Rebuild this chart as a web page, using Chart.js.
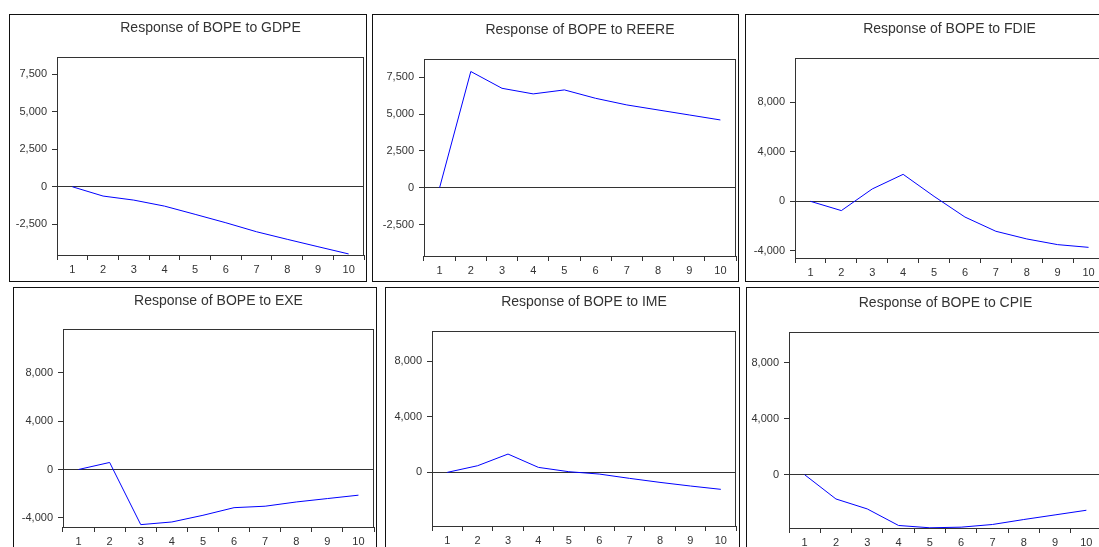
<!DOCTYPE html>
<html>
<head>
<meta charset="utf-8">
<script src="https://cdn.jsdelivr.net/npm/chart.js@4.4.1/dist/chart.umd.min.js"></script>
<style>
  html, body { margin: 0; padding: 0; background: #fff; }
  body { width: 1099px; height: 547px; overflow: hidden; position: relative; }
  .panel { position: absolute; box-sizing: border-box; border: 1px solid #111; background: #fff; }
  .panel canvas { display: block; }
</style>
</head>
<body>
<script>
// impulse responses of BOPE, periods 1..10
const periods = ['1', '2', '3', '4', '5', '6', '7', '8', '9', '10'];
const gdpe  = [0, -620, -890, -1290, -1840, -2400, -3000, -3505, -3995, -4480];
const reere = [0, 7890, 6750, 6370, 6640, 6070, 5620, 5280, 4940, 4600];
const fdie  = [0, -750, 1000, 2180, 400, -1270, -2420, -3040, -3500, -3720];
const exe   = [0, 580, -4550, -4330, -3780, -3150, -3030, -2680, -2400, -2120];
const ime   = [0, 480, 1320, 360, 50, -120, -430, -720, -980, -1220];
const cpie  = [0, -1730, -2440, -3620, -3785, -3740, -3550, -3195, -2865, -2535];

// y tick labels
const ticksA = [-2500, 0, 2500, 5000, 7500];
const ticksB = [-4000, 0, 4000, 8000];
const ticksC = [0, 4000, 8000];

const font = 'Liberation Sans, Arial, sans-serif';

// box: outer frame [left, top, width, height]; plot: chart area inside canvas [left, top, right, bottom]
const panels = [
  { title: 'Response of BOPE to GDPE',  data: gdpe,  ticks: ticksA, min: -4550, max: 8650,  box: [9, 14, 358, 268],   plot: [47, 42, 354, 240], titleY: 13 },
  { title: 'Response of BOPE to REERE', data: reere, ticks: ticksA, min: -4640, max: 8740,  box: [372, 14, 367, 268], plot: [51, 44, 363, 241], titleY: 15 },
  { title: 'Response of BOPE to FDIE',  data: fdie,  ticks: ticksB, min: -4580, max: 11580, box: [745, 14, 362, 268], plot: [49, 43, 358, 243], titleY: 14 },
  { title: 'Response of BOPE to EXE',   data: exe,   ticks: ticksB, min: -4745, max: 11590, box: [13, 287, 364, 270], plot: [49, 41, 360, 239], titleY: 13 },
  { title: 'Response of BOPE to IME',   data: ime,   ticks: ticksC, min: -3860, max: 10180, box: [385, 287, 355, 270], plot: [46, 43, 350, 238], titleY: 14 },
  { title: 'Response of BOPE to CPIE',  data: cpie,  ticks: ticksC, min: -3800, max: 10180, box: [746, 287, 362, 270], plot: [42, 44, 355, 240], titleY: 15 }
];

// frame round the plot area
const frame = {
  id: 'frame',
  beforeDatasetsDraw(chart) {
    const a = chart.chartArea;
    const ctx = chart.ctx;
    ctx.save();
    ctx.strokeStyle = '#333';
    ctx.lineWidth = 1;
    ctx.strokeRect(Math.round(a.left) + 0.5, Math.round(a.top) + 0.5,
      Math.round(a.right - a.left) - 1, Math.round(a.bottom - a.top));
    ctx.restore();
  }
};

panels.forEach(p => {
  const div = document.createElement('div');
  div.className = 'panel';
  div.style.left = p.box[0] + 'px';
  div.style.top = p.box[1] + 'px';
  div.style.width = p.box[2] + 'px';
  div.style.height = p.box[3] + 'px';
  const cv = document.createElement('canvas');
  const w = p.box[2] - 2, h = p.box[3] - 2;
  cv.width = w; cv.height = h;
  cv.style.width = w + 'px'; cv.style.height = h + 'px';
  div.appendChild(cv);
  document.body.appendChild(div);

  const padTop = p.titleY - 7;
  const padBottom = p.plot[1] - padTop - 14;

  new Chart(cv.getContext('2d'), {
    type: 'line',
    data: {
      labels: periods,
      datasets: [{
        data: p.data,
        borderColor: '#0000ff',
        borderWidth: 1,
        pointRadius: 0,
        tension: 0,
        fill: false
      }]
    },
    options: {
      responsive: false,
      animation: false,
      events: [],
      layout: { padding: { left: 0, top: 0, bottom: 0, right: w - p.plot[2] } },
      plugins: {
        legend: { display: false },
        tooltip: { enabled: false },
        title: {
          display: true,
          text: p.title,
          fullSize: false,
          color: '#333',
          font: { family: font, size: 14, weight: 'normal', lineHeight: 1 },
          padding: { top: padTop, bottom: padBottom }
        }
      },
      scales: {
        x: {
          type: 'category',
          offset: true,
          grid: { offset: true, drawOnChartArea: false, tickLength: 5, tickColor: '#333' },
          border: { display: false },
          ticks: { color: '#333', font: { family: font, size: 11 }, padding: 3, maxRotation: 0, autoSkip: false },
          afterFit: s => { s.height = h - p.plot[3]; }
        },
        y: {
          min: p.min,
          max: p.max,
          grid: {
            color: c => (c.tick && c.tick.value === 0 ? '#333' : 'rgba(0,0,0,0)'),
            tickLength: 5,
            tickColor: '#333'
          },
          border: { display: false },
          ticks: {
            color: '#333',
            font: { family: font, size: 11 },
            padding: 5,
            callback: v => v.toLocaleString('en-US')
          },
          afterBuildTicks: s => { s.ticks = p.ticks.map(v => ({ value: v })); },
          afterFit: s => { s.width = p.plot[0]; }
        }
      }
    },
    plugins: [frame]
  });
});
</script>
</body>
</html>
